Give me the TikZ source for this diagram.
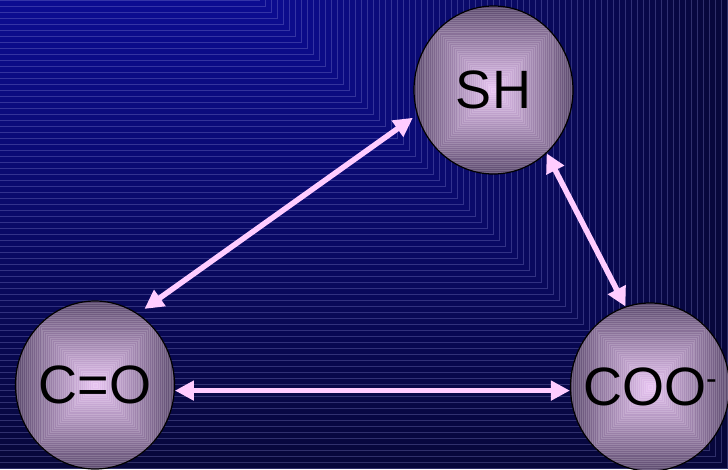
\documentclass[tikz,border=0pt]{standalone}
\usepackage{fontspec}
\setmainfont{Liberation Sans}
\usetikzlibrary{arrows.meta,calc,shapes.geometric}
\definecolor{bgB}{HTML}{0C0C92}
\definecolor{bgD}{HTML}{07073A}
\definecolor{bandline}{HTML}{9A9AE0}
\definecolor{ballD}{HTML}{5C4A6E}
\definecolor{ballL}{HTML}{E6C3F0}
\definecolor{arrowpink}{HTML}{FFCCFF}
\tikzset{
  ball/.style={ellipse, draw=black, line width=1.2pt,
    minimum width=159pt, minimum height=168pt, inner sep=0pt,
    font=\fontsize{54}{60}\selectfont, text=black,
    path picture={
      \foreach \i in {0,...,40}{
        \pgfmathsetmacro\f{\i/41}
        \pgfmathsetmacro\p{100*\i/40}
        \filldraw[fill=ballL!\p!ballD, draw=ballL!\p!ballD!85!white, line width=0.3pt]
          ($(path picture bounding box.south west)!\f!(path picture bounding box.center)$)
          rectangle
          ($(path picture bounding box.north east)!\f!(path picture bounding box.center)$);
      }
    }},
  arr/.style={draw=arrowpink, line width=5.5pt,
    {Triangle[length=19pt,width=19pt]}-{Triangle[length=19pt,width=19pt]}},
  bgband/.style={line width=0.6pt}
}
\begin{document}
\begin{tikzpicture}[x=1pt,y=-1pt]
\useasboundingbox (0,0) rectangle (728,469);
% background rectangular gradient
\fill[bgD] (0,0) rectangle (728,469);
\foreach \t in {468,462,...,0}{
  \pgfmathsetmacro\p{100*(1-\t/469)}
  \fill[bgB!\p!bgD] (-2,-2) rectangle (259+\t,\t);
  \draw[bgband, bgB!\p!bgD!72!bandline] (-2,\t) -- (259+\t,\t) -- (259+\t,-2);
}
% nodes
\node[ball] (sh) at (493.5,90) {\makebox[0pt][c]{SH}};
\node[ball] (co) at (95,385) {\makebox[0pt][c]{C=O}};
\node[ball] (coo) at (650,387) {\makebox[0pt][c]{\raisebox{-4pt}{COO\raisebox{0.3em}{\fontsize{32}{32}\selectfont -}}}};
% connectors
\draw[arr, shorten <=8pt, shorten >=5pt] (co.59) -- (sh.198);
\draw[arr] (sh.-50) -- (coo.107);
\draw[arr] (co.-4) -- (co.-4 -| coo.west);
\end{tikzpicture}
\end{document}
